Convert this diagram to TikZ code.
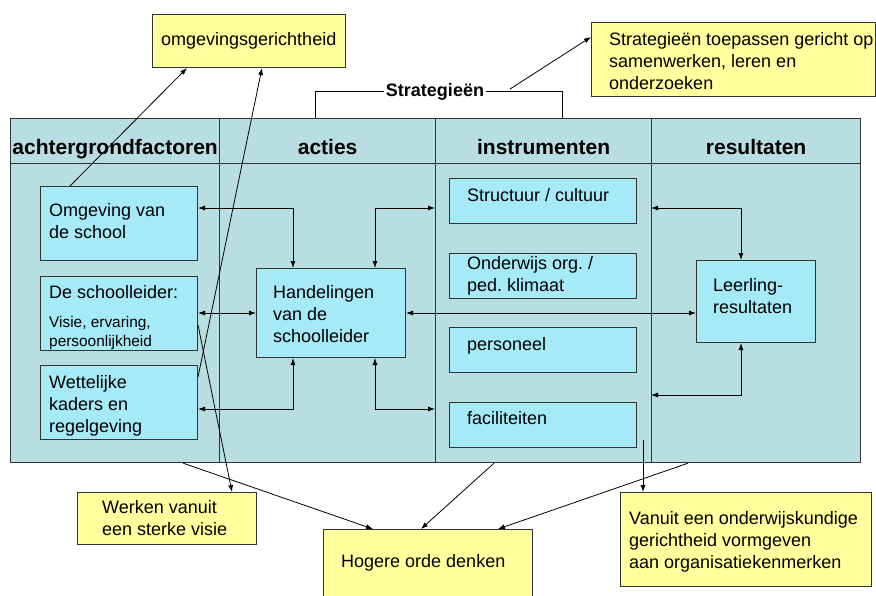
\documentclass[tikz,border=0pt]{standalone}
\usepackage{fontspec}
\setmainfont{Liberation Sans}
\usepackage{tikz}
\usetikzlibrary{positioning,arrows.meta}
\usepackage{xcolor}
\definecolor{tabelblauw}{HTML}{B9DEE2}
\definecolor{vakblauw}{HTML}{A6EAF7}
\definecolor{notageel}{HTML}{FFFF9E}
\definecolor{randgrijs}{HTML}{333333}
\frenchspacing

\begin{document}
\begin{tikzpicture}[x=1pt, y=-1pt,
    every node/.style={font=\fontsize{18}{22}\selectfont, inner sep=0pt, align=left},
    cel/.style={draw=randgrijs, line width=1.2pt, fill=tabelblauw, anchor=north west},
    vak/.style={draw=randgrijs, line width=1pt, fill=vakblauw, anchor=north west},
    nota/.style={draw=randgrijs, line width=1pt, fill=notageel, anchor=north west},
    kop/.style={font=\bfseries\fontsize{21}{24}\selectfont, anchor=base},
    tekst/.style={anchor=base west},
    klein/.style={anchor=base west, font=\fontsize{15.4}{19}\selectfont},
    pijl/.style={-{Latex[length=7pt,width=5pt]}, line width=0.8pt},
    dubbel/.style={{Latex[length=7pt,width=5pt]}-{Latex[length=7pt,width=5pt]}, line width=0.8pt}]
    \useasboundingbox (0,0) rectangle (876,595);

    % tabel: kopregel en kolommen
    \node[cel, minimum width=209, minimum height=45] (kopA) at (10,118) {};
    \node[cel, minimum width=216, minimum height=45] (kopB) at (219,118) {};
    \node[cel, minimum width=216, minimum height=45] (kopC) at (435,118) {};
    \node[cel, minimum width=209, minimum height=45] (kopD) at (651,118) {};
    \node[cel, minimum width=209, minimum height=299] (celA) at (10,163) {};
    \node[cel, minimum width=216, minimum height=299] (celB) at (219,163) {};
    \node[cel, minimum width=216, minimum height=299] (celC) at (435,163) {};
    \node[cel, minimum width=209, minimum height=299] (celD) at (651,163) {};
    \node[kop] (kopAtekst) at ([yshift=10pt]kopA.south) {achtergrondfactoren};
    \node[kop] (kopBtekst) at ([yshift=10pt]kopB.south) {acties};
    \node[kop] (kopCtekst) at ([yshift=10pt]kopC.south) {instrumenten};
    \node[kop] (kopDtekst) at ([yshift=10pt]kopD.south) {resultaten};

    % blauwe vakken
    \node[vak, minimum width=157, minimum height=74] (omg) at (40,186) {};
    \node[vak, minimum width=157, minimum height=74] (schl) at (40,276) {};
    \node[vak, minimum width=157, minimum height=74] (wet) at (40,365) {};
    \node[vak, minimum width=149, minimum height=89] (hand) at (256,268) {};
    \node[vak, minimum width=187, minimum height=45] (struc) at (449,178) {};
    \node[vak, minimum width=187, minimum height=45] (ondw) at (449,253) {};
    \node[vak, minimum width=187, minimum height=45] (pers) at (449,327) {};
    \node[vak, minimum width=187, minimum height=45] (fac) at (449,402) {};
    \node[vak, minimum width=119, minimum height=82] (leer) at (696,260) {};

    % gele notities
    \node[nota, minimum width=193, minimum height=53] (omgg) at (152,14) {};
    \node[nota, minimum width=284, minimum height=74] (toep) at (591,22) {};
    \node[nota, minimum width=179, minimum height=52] (werk) at (77,492) {};
    \node[nota, minimum width=209, minimum height=80] (hog) at (323,529) {};
    \node[nota, minimum width=251, minimum height=94] (van) at (620,492) {};

    % teksten (meerregelig: basislijn van de laatste regel)
    \node[tekst] (omgTekst) at (49,238) {Omgeving van\\de school};
    \node[tekst] (schlTekst) at (49,298) {De schoolleider:};
    \node[klein] (schlKlein) at (49,346) {Visie, ervaring,\\persoonlijkheid};
    \node[tekst] (wetTekst) at (49,432) {Wettelijke\\kaders en\\regelgeving};
    \node[tekst] (handTekst) at (273,342) {Handelingen\\van de\\schoolleider};
    \node[tekst] (strucTekst) at (467,201) {Structuur / cultuur};
    \node[tekst] (ondwTekst) at (467,291) {Onderwijs org. /\\ped. klimaat};
    \node[tekst] (persTekst) at (467,350) {personeel};
    \node[tekst] (facTekst) at (467,424) {faciliteiten};
    \node[tekst] (leerTekst) at (713,313) {Leerling-\\resultaten};
    \node[tekst] (omggTekst) at (161,45) {omgevingsgerichtheid};
    \node[tekst] (toepTekst) at (609,89) {Strategieën toepassen gericht op\\samenwerken, leren en\\onderzoeken};
    \node[tekst] (werkTekst) at (102,535) {Werken vanuit\\een sterke visie};
    \node[tekst] (hogTekst) at (341,567) {Hogere orde denken};
    \node[tekst] (vanTekst) at (629,568) {Vanuit een onderwijskundige\\gerichtheid vormgeven\\aan organisatiekenmerken};

    % strategieen-haak
    \node[font=\bfseries\fontsize{18}{22}\selectfont, anchor=base, inner xsep=2pt] (strat) at (435,96) {Strategieën};
    \draw[line width=0.8pt] ([xshift=96pt]kopB.north west) |- (strat.west);
    \draw[line width=0.8pt] (strat.east) -| ([xshift=127pt]kopC.north west);
    \coordinate (stratPunt) at (510,89);
    \draw[pijl] (stratPunt) -- ([yshift=-15pt]toep.north west);

    % dubbele pijlen in de tabel
    \coordinate (rijBoven) at (0,208);
    \coordinate (rijOnder) at (0,409);
    \coordinate (rijLeer) at (0,395);
    \coordinate (kolL) at (293,0);
    \coordinate (kolR) at (375,0);
    \coordinate (kolLeer) at (741,0);
    \draw[dubbel] (omg.east |- rijBoven) -| (kolL |- hand.north);
    \draw[dubbel] (kolR |- hand.north) |- (celC.west |- rijBoven);
    \draw[dubbel] (schl.east |- hand.west) -- (hand.west);
    \draw[dubbel] (wet.east |- rijOnder) -| (kolL |- hand.south);
    \draw[dubbel] (kolR |- hand.south) |- (celC.west |- rijOnder);
    \draw[dubbel] (hand.east) -- (leer.west |- hand.east);
    \draw[dubbel] (kolLeer |- leer.north) |- (celD.west |- rijBoven);
    \draw[dubbel] (kolLeer |- leer.south) |- (celD.west |- rijLeer);

    % pijlen naar de notities
    \draw[pijl] ([xshift=30pt]omg.north west) -- ([xshift=35pt]omgg.south west);
    \draw[pijl] ([yshift=-12pt]wet.north east) -- ([xshift=110pt]omgg.south west);
    \draw[pijl] ([yshift=-49pt]schl.north east) -- ([xshift=155pt]werk.north west);
    \draw[pijl] ([xshift=-37pt]celA.south east) -- ([xshift=50pt]hog.north west);
    \draw[pijl] ([xshift=59pt]celC.south west) -- ([xshift=98pt]hog.north west);
    \draw[pijl] ([xshift=37pt]celD.south west) -- ([xshift=-35pt]hog.north east);
    \coordinate (facPunt) at (643,440);
    \draw[pijl] (facPunt) -- (facPunt |- van.north);
\end{tikzpicture}
\end{document}
